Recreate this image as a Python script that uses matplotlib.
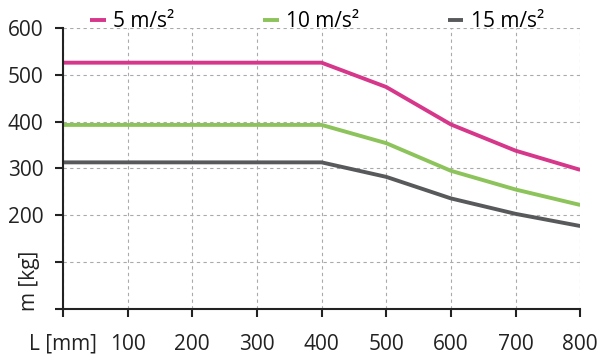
import matplotlib.pyplot as plt
import matplotlib.transforms as mtransforms

plt.rcParams['font.family'] = ['Open Sans', 'DejaVu Sans']

length_mm = [0, 100, 200, 300, 400, 500, 600, 700, 800]
mass_5 = [526, 526, 526, 526, 526, 474, 394, 338, 297]
mass_10 = [393, 393, 393, 393, 393, 354, 295, 255, 222]
mass_15 = [313, 313, 313, 313, 313, 282, 236, 203, 177]
labels = ['5 m/s²', '10 m/s²', '15 m/s²']
colors = ['#d6378a', '#8cc35a', '#58595b']

x_ticks = [0, 100, 200, 300, 400, 500, 600, 700, 800]
x_ticklabels = ['L [mm]', '100', '200', '300', '400', '500', '600', '700', '800']
y_ticks = [0, 100, 200, 300, 400, 500, 600]
y_ticklabels = ['', '', '200', '300', '400', '500', '600']

fig = plt.figure(figsize=(6, 3.55), dpi=100)
ax = fig.add_axes([0.105, 0.13, 0.862, 0.791])

for ys, lab, col in zip([mass_5, mass_10, mass_15], labels, colors):
    ax.plot(length_mm, ys, color=col, lw=2.8, label=lab,
            solid_capstyle='butt', solid_joinstyle='round')

ax.set_xlim(0, 800)
ax.set_ylim(0, 600)
ax.set_xticks(x_ticks)
ax.set_xticklabels(x_ticklabels)
ax.set_yticks(y_ticks)
ax.set_yticklabels(y_ticklabels)
ax.tick_params(labelsize=15, length=6, width=1.5, color='#222222',
               labelcolor='#222222')
ax.tick_params(axis='x', pad=12)
ax.tick_params(axis='y', pad=8)

ax.grid(True, color='#aaaaaa', lw=0.8, ls=(0, (3, 3)))
ax.set_axisbelow(True)
for s in ['top', 'right']:
    ax.spines[s].set_visible(False)
for s in ['left', 'bottom']:
    ax.spines[s].set_linewidth(1.5)
    ax.spines[s].set_color('#222222')

# y label sits where the "100" tick label would be
trans = mtransforms.blended_transform_factory(ax.transAxes, ax.transData)
ax.text(-0.064, 60, 'm [kg]', rotation=90, ha='center', va='center',
        fontsize=15, color='#222222', transform=trans)

ax.legend(loc='lower left', bbox_to_anchor=(0.053, 0.985), ncol=3,
          frameon=False, fontsize=15, handlelength=0.75, handletextpad=0.35,
          columnspacing=4.25, borderaxespad=0, borderpad=0)

fig.savefig('out.png', dpi=100)
